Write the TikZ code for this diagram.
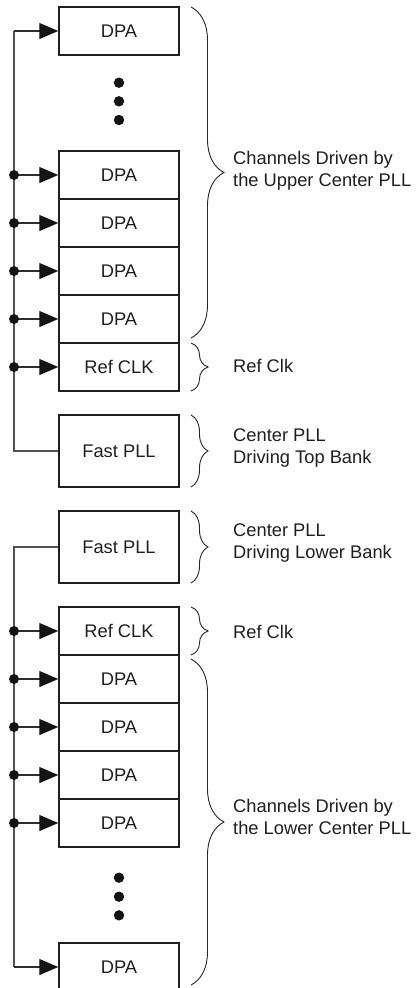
\documentclass[tikz,border=0pt]{standalone}
\usepackage{fontspec}
\setmainfont{Liberation Sans}
\usetikzlibrary{arrows.meta,decorations.pathreplacing}
\begin{document}
\begin{tikzpicture}[x=1pt,y=-1pt,
  blk/.style={draw=black!88,line width=1.5pt,minimum width=120pt,minimum height=48pt,inner sep=0pt,font=\fontsize{18.3}{22}\selectfont,text=black!88},
  tall/.style={blk,minimum height=72pt},
  wire/.style={draw=black!68,line width=1.5pt},
  feed/.style={draw=black!82,line width=1.3pt,-{Triangle[length=19pt,width=16pt,color=black!92]}},
  jdot/.style={fill=black!92},
  brc/.style={draw=black!85,line width=0.9pt,decorate,decoration={brace,amplitude=#1}},
  lbl/.style={anchor=west,align=left,inner sep=0pt,font=\fontsize{18.3}{22.5}\selectfont,text=black!88}]
\useasboundingbox (0,0) rectangle (417,988);
\clip (0,0) rectangle (417,988);
\fill[white] (0,0) rectangle (417,988);
% bus x coordinate
\coordinate (bx) at (14,0);
% upper bank
\node[blk] (d1) at (119,31) {DPA};
\node[blk] (d2) at (119,175) {DPA};
\node[blk] (d3) at (119,223) {DPA};
\node[blk] (d4) at (119,271) {DPA};
\node[blk] (d5) at (119,319) {DPA};
\node[blk] (r1) at (119,367) {Ref CLK};
\node[tall] (f1) at (119,451) {Fast PLL};
% lower bank
\node[tall] (f2) at (119,547) {Fast PLL};
\node[blk] (r2) at (119,631) {Ref CLK};
\node[blk] (e1) at (119,679) {DPA};
\node[blk] (e2) at (119,727) {DPA};
\node[blk] (e3) at (119,775) {DPA};
\node[blk] (e4) at (119,823) {DPA};
\node[blk] (e5) at (119,967) {DPA};
% ellipsis dots
\foreach \y in {82.7,101.3,120,877.7,896.7,915.3}
  \fill[black!92] (119,\y) circle (5.2);
% upper bus
\draw[wire] (f1.west) -| (d1.west -| bx);
\draw[feed] (d1.west -| bx) -- (d1.west);
\foreach \n in {d2,d3,d4,d5,r1}{
  \draw[feed] (\n.west -| bx) -- (\n.west);
  \fill[jdot] (\n.west -| bx) circle (5);
}
% lower bus
\draw[wire] (f2.west) -| (e5.west -| bx);
\draw[feed] (e5.west -| bx) -- (e5.west);
\foreach \n in {r2,e1,e2,e3,e4}{
  \draw[feed] (\n.west -| bx) -- (\n.west);
  \fill[jdot] (\n.west -| bx) circle (5);
}
% braces
\draw[brc=33pt] (191,7) -- (191,338);
\draw[brc=17pt] (191,343) -- (191,391);
\draw[brc=17pt] (191,415) -- (191,487);
\draw[brc=17pt] (191,511) -- (191,583);
\draw[brc=17pt] (191,607) -- (191,655);
\draw[brc=33pt] (191,659) -- (191,985);
% labels
\node[lbl] (l1) at (233,171) {Channels Driven by\\the Upper Center PLL};
\node[lbl] (l2) at (233,366) {Ref Clk};
\node[lbl] (l3) at (233,448) {Center PLL\\Driving Top Bank};
\node[lbl] (l4) at (233,543) {Center PLL\\Driving Lower Bank};
\node[lbl] (l5) at (233,632) {Ref Clk};
\node[lbl] (l6) at (233,817) {Channels Driven by\\the Lower Center PLL};
\end{tikzpicture}
\end{document}
